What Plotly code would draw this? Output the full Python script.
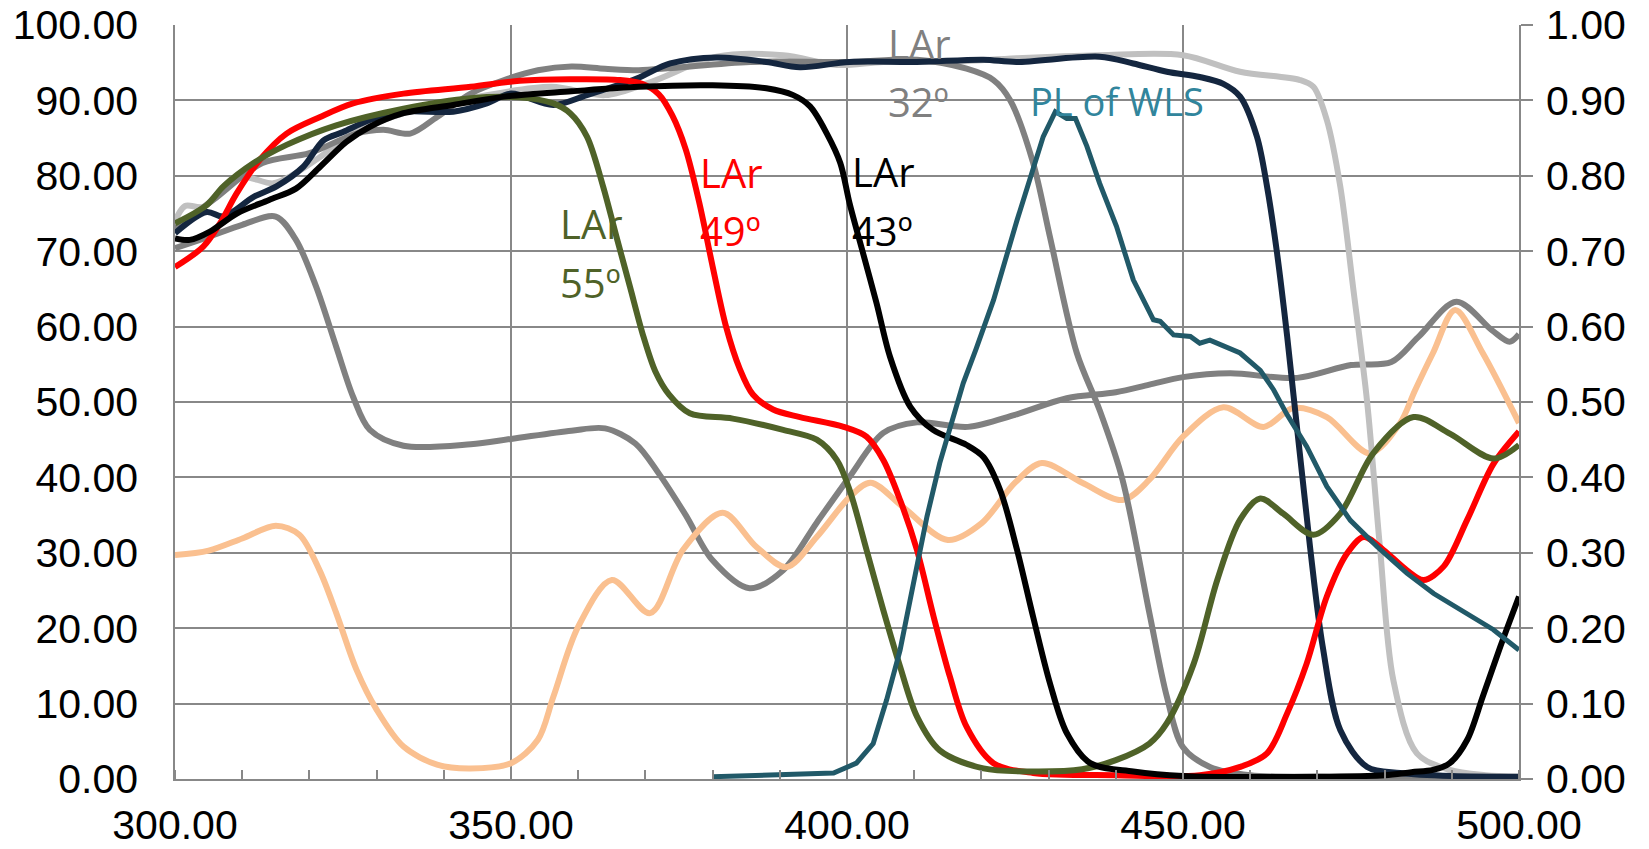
import plotly.graph_objects as go

# ---- data (wavelength in nm) ----
peach_x = [300, 305, 310, 315, 318.5, 321.5, 324, 327, 330, 334, 339, 344, 350, 354, 356.3, 360, 365, 370.7, 375.6, 381.5, 386.5, 391, 395.5, 400.4, 403.5, 408.3, 415, 420, 425, 429, 435, 441, 445, 450, 456, 462, 466.4, 471.4, 477.8, 482.3, 484.5, 487.2, 490.5, 494.6, 500]
peach_y = [29.7, 30.3, 31.9, 33.6, 32.4, 27.7, 22, 14.5, 9.2, 4.3, 1.9, 1.4, 2.1, 5.2, 10.9, 20.2, 26.4, 22, 30.4, 35.3, 30.8, 28.1, 32.1, 37.4, 39.3, 36.1, 31.7, 33.9, 39.3, 41.9, 39.3, 37, 39.7, 45.4, 49.3, 46.7, 49.2, 48, 43.2, 47.2, 51.5, 56.5, 62.2, 56.5, 47.2]

gray2_x = [300, 305, 310, 315, 318, 321, 324, 326.5, 329, 334, 344, 350, 359, 364, 368.5, 372, 376, 380, 385.5, 390.5, 395.5, 400.4, 405.4, 410.4, 418, 425, 432.7, 440, 445, 450, 457, 467, 475, 481, 485, 490.7, 496, 498.6, 500]
gray2_y = [70.4, 71.9, 73.5, 74.6, 71.5, 65.3, 57.3, 50.7, 46.3, 44.2, 44.4, 45.1, 46.2, 46.5, 44.5, 40.5, 35, 29, 25.3, 27.7, 34, 40.1, 45.9, 47.3, 46.7, 48.3, 50.5, 51.3, 52.3, 53.3, 53.8, 53.2, 54.9, 55.3, 58.6, 63.3, 59.5, 58, 59]

lgray_x = [300, 301.5, 304.2, 309.2, 314.6, 317.1, 321.6, 326.5, 334, 344, 356, 364, 371, 380.6, 390.5, 398.5, 405.4, 415.3, 425.2, 437.6, 450, 458.5, 467.4, 469.4, 471.4, 473.4, 475.3, 477.4, 479.3, 481.3, 484.8, 489.7, 495, 500]
lgray_y = [74, 76, 75.9, 79.9, 79, 79.9, 82.5, 85.6, 88.3, 90.3, 91.8, 90.7, 92.5, 95.8, 96, 94.7, 95.1, 95.1, 95.6, 96, 96, 93.8, 92.7, 91.8, 87.4, 78.6, 65.3, 50, 30.8, 13.1, 3.4, 1.2, 0.5, 0.3]

gray1_x = [300, 305.7, 313, 320, 327, 331, 335, 339, 344, 349, 354, 359, 364, 369, 374, 385.6, 400, 410.4, 417.8, 421.8, 424.3, 427.7, 430.2, 434.2, 437.6, 441, 445, 447.6, 450, 454, 460, 470, 500]
gray1_y = [73, 76.8, 81.7, 83, 85.6, 86.1, 85.6, 87.8, 90.9, 92.7, 94, 94.5, 94.2, 94, 94.3, 95.1, 95.1, 95.4, 94.2, 92.7, 90, 81.7, 71.9, 56.5, 48.9, 39.7, 22, 10.9, 4.2, 1.6, 0.5, 0.3, 0.2]

navy_x = [300, 304.7, 307.2, 311.7, 315.1, 319.1, 322.1, 325, 329, 334, 341.4, 346.4, 350, 356.3, 361.3, 368.7, 373.7, 380.6, 388, 393, 400.4, 410.4, 420.3, 425.2, 437.6, 442.6, 447.6, 452.5, 456, 458.5, 461, 462.5, 464, 465.5, 468.9, 470.8, 473.4, 477.4, 482.3, 490, 500]
navy_y = [72.4, 75.2, 74.6, 77.2, 78.6, 81.2, 84.7, 85.8, 87.4, 88.5, 88.5, 89.6, 90.9, 89.4, 90.7, 92.9, 94.9, 95.7, 95.1, 94.4, 95.1, 95.1, 95.4, 95.1, 95.8, 94.9, 93.8, 93.1, 92.2, 90.5, 85.2, 78.6, 69.7, 58.7, 30.8, 17.5, 6.5, 1.6, 0.8, 0.4, 0.3]

black_x = [300, 302.2, 305.2, 309.2, 314, 318, 321.6, 325.5, 329, 334, 341.4, 349, 359, 369, 380, 388, 392, 394.5, 397, 399, 400.4, 402.4, 404.4, 406.4, 409.4, 412.8, 417.8, 420.3, 422.8, 425.3, 427.7, 430.2, 432.7, 436.2, 442.6, 450, 470, 480, 484, 487.2, 489.7, 492.3, 494.6, 497.2, 500]
black_y = [71.7, 71.5, 72.6, 75, 76.8, 78.3, 81.2, 84.5, 86.5, 88.3, 89.4, 90.5, 91.2, 91.8, 92, 91.6, 90.7, 89.2, 85.6, 81.7, 76.3, 69.7, 63.1, 56, 49.4, 46.3, 44.3, 42.7, 38.3, 30.4, 21.5, 12.7, 6.1, 2.1, 1, 0.4, 0.3, 0.5, 0.9, 1.2, 2.1, 5.2, 10.9, 17.5, 24.2]

red_x = [300, 304.2, 306.7, 309.2, 312.6, 316.6, 321.6, 326.5, 334, 344, 351.3, 358.8, 366.2, 369.5, 372, 374, 376, 378, 380, 382, 384, 386, 389, 393, 399.5, 402.9, 405.4, 407.9, 410.4, 412.9, 415.3, 417.8, 421.8, 427.7, 440, 452.5, 458.5, 462.5, 465.5, 468.4, 471.4, 474.4, 476.9, 479.8, 483.3, 485.8, 488.8, 492.3, 496.2, 500]
red_y = [67.9, 70.6, 73.7, 77.7, 82.1, 85.6, 87.8, 89.6, 90.9, 91.8, 92.6, 92.8, 92.7, 92.2, 90.8, 88, 83.5, 76.5, 68, 60, 54.5, 51, 49, 48, 46.7, 45.4, 42.3, 37, 30.4, 21.5, 13.6, 6.9, 2.1, 0.8, 0.5, 0.5, 1.6, 3.4, 8.7, 15.3, 24.2, 29.9, 32.1, 30.4, 27.7, 26.4, 28.2, 34.4, 41.8, 46.1]

olive_x = [300, 304.7, 307.2, 311.7, 316.6, 324, 334, 344, 351.3, 356.3, 358.8, 361.3, 363.7, 365.7, 367.7, 369.7, 371.5, 373.5, 376.6, 383, 390.5, 395.5, 398.5, 400.4, 402.9, 405.4, 407.9, 410.4, 413.8, 420.3, 427.7, 435, 440, 445, 447.6, 451.6, 455.1, 458.5, 461.5, 464.9, 469.4, 473.4, 478.3, 484.3, 489.7, 496.2, 500]
olive_y = [73.7, 76.1, 78.6, 81.7, 84.1, 86.7, 88.9, 90.3, 90.4, 89.6, 88.3, 85.2, 78.6, 71.9, 65.3, 58.7, 54, 51, 48.5, 47.8, 46.3, 45, 42.3, 38.3, 30.4, 22.4, 14.9, 8.3, 3.8, 1.4, 1, 1.3, 2.5, 4.7, 7.4, 15.3, 26.4, 34.4, 37.2, 35.2, 32.4, 35.2, 43.2, 48, 45.8, 42.5, 44.3]

wls_x = [380, 390, 398, 401.4, 403.9, 405.9, 407.9, 409.9, 411.9, 413.8, 417.3, 419.2, 421.8, 425.3, 427.7, 429.2, 431, 432.7, 434, 435.7, 437.6, 440.1, 442.6, 445.6, 446.6, 448.6, 451.1, 452.5, 454, 456.5, 458.5, 461.5, 463.5, 465.5, 468.4, 471.4, 474.9, 478.9, 483.3, 487.3, 492.3, 496.2, 500]
wls_y = [0.003, 0.005, 0.008, 0.021, 0.047, 0.105, 0.171, 0.26, 0.348, 0.419, 0.525, 0.57, 0.635, 0.741, 0.808, 0.852, 0.885, 0.876, 0.876, 0.839, 0.79, 0.733, 0.662, 0.609, 0.607, 0.589, 0.587, 0.578, 0.582, 0.573, 0.565, 0.542, 0.516, 0.483, 0.441, 0.388, 0.343, 0.308, 0.273, 0.246, 0.22, 0.198, 0.171]

x_ticks = [300, 350, 400, 450, 500]

GRID = "#888888"
fig = go.Figure()

def smooth(x, y, color, name, width=6):
    fig.add_trace(go.Scatter(x=x, y=y, mode="lines", name=name,
                             line=dict(color=color, width=width, shape="spline", smoothing=0.9)))

smooth(gray2_x, gray2_y, "#808080", "gray2")
smooth(peach_x, peach_y, "#fac090", "peach")
smooth(lgray_x, lgray_y, "#c0c0c0", "LAr light")
smooth(gray1_x, gray1_y, "#808080", "LAr 32")
smooth(navy_x, navy_y, "#14263f", "navy")
smooth(red_x, red_y, "#ff0000", "LAr 49")
smooth(olive_x, olive_y, "#4f6228", "LAr 55")
smooth(black_x, black_y, "#000000", "LAr 43")
fig.add_trace(go.Scatter(x=wls_x, y=wls_y, mode="lines", name="PL of WLS", yaxis="y2",
                         line=dict(color="#215968", width=5)))

ANN_FONT = "Open Sans"
labels = [
    ("LAr", 405.8, 97.5, "#808080", 40), ("32º", 405.8, 89.8, "#808080", 40),
    ("PL of WLS", 427.0, 89.9, "#31859c", 38),
    ("LAr", 377.8, 80.5, "#ff0000", 40), ("49º", 377.8, 72.7, "#ff0000", 40),
    ("LAr", 400.4, 80.6, "#000000", 40), ("43º", 400.4, 72.8, "#000000", 40),
    ("LAr", 357.0, 73.7, "#4f6228", 40), ("55º", 357.0, 65.9, "#4f6228", 40),
]
for txt, lx, ly, col, sz in labels:
    fig.add_annotation(x=lx, y=ly, xref="x", yref="y", text=txt, showarrow=False,
                       xanchor="left", yanchor="middle",
                       font=dict(family=ANN_FONT, size=sz, color=col))

TICK_FONT = dict(family="Liberation Sans, Arial", size=41, color="#000000")
fig.update_layout(
    width=1649, height=849,
    margin=dict(l=175, r=130, t=25, b=70, autoexpand=False),
    paper_bgcolor="white", plot_bgcolor="white",
    showlegend=False,
    xaxis=dict(range=[300, 500], tickvals=x_ticks, tickformat=".2f", automargin=False,
               showgrid=True, gridcolor=GRID, gridwidth=1.5,
               showline=True, linecolor=GRID, linewidth=1.5, mirror=False,
               ticks="", tickfont=TICK_FONT, ticklabelstandoff=9, zeroline=False,
               ticklabeloverflow="allow",
               minor=dict(dtick=10, ticks="inside", ticklen=9, tickcolor=GRID,
                          tickwidth=1.5, showgrid=False)),
    yaxis=dict(range=[0, 100], dtick=10, tickformat=".2f", automargin=False,
               showgrid=True, gridcolor=GRID, gridwidth=1.5,
               showline=True, linecolor=GRID, linewidth=1.5,
               ticks="", tickfont=TICK_FONT, ticklabelstandoff=27, zeroline=False,
               ticklabeloverflow="allow"),
    yaxis2=dict(range=[0, 1], dtick=0.1, tickformat=".2f", overlaying="y", side="right",
                automargin=False,
                showgrid=False, showline=True, linecolor=GRID, linewidth=1.5,
                ticks="outside", ticklen=12, tickcolor=GRID, tickwidth=1.5,
                tickfont=TICK_FONT, ticklabelstandoff=5, zeroline=False,
                ticklabeloverflow="allow"),
)

# remove the default page margin so the figure fills the window exactly
fig.write_html("out.html", config={"displayModeBar": False},
               post_script="document.body.style.margin='0';")
